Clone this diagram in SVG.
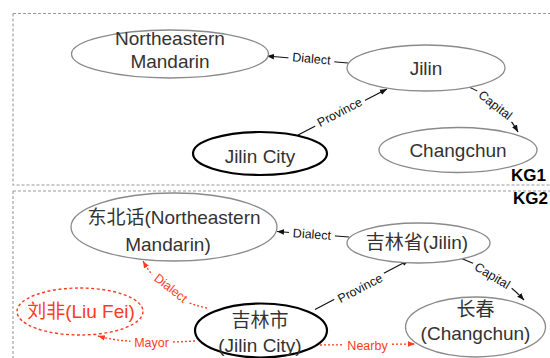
<svg xmlns="http://www.w3.org/2000/svg" width="550" height="358" viewBox="0 0 550 358">
<style>
.box{fill:none;stroke:#9a9a9a;stroke-width:1.1;stroke-dasharray:3 2}
.nd{fill:#fff;stroke:#8a8a8a;stroke-width:1.3}
.nd-b{fill:#fff;stroke:#000;stroke-width:2.2}
.nd-r{fill:#fff;stroke:#ff3b1f;stroke-width:1.4;stroke-dasharray:3 2.5}
.nt{font-family:"Liberation Sans","Noto Sans CJK SC",sans-serif;font-size:19px;fill:#333;text-anchor:middle}
.nt-r{fill:#ff3b1f}
.kg{font-family:"Liberation Sans",sans-serif;font-size:17px;font-weight:bold;fill:#000;text-anchor:end}
.e{fill:none;stroke:#111;stroke-width:1.2}
.e-r{fill:none;stroke:#ff3b1f;stroke-width:1.3;stroke-dasharray:2 2}
.lbg{fill:#fff}
.el{font-family:"Liberation Sans",sans-serif;font-size:12.5px;fill:#111;text-anchor:middle}
.el-r{fill:#ff3b1f}
</style>
<defs>
<marker id="ah" viewBox="0 0 10 10" refX="10" refY="5" markerWidth="7" markerHeight="7" markerUnits="userSpaceOnUse" orient="auto"><path d="M0,1 L10,5 L0,9 z" fill="#111"/></marker>
<marker id="ahr" viewBox="0 0 10 10" refX="10" refY="5" markerWidth="7" markerHeight="7" markerUnits="userSpaceOnUse" orient="auto"><path d="M0,1 L10,5 L0,9 z" fill="#ff3b1f"/></marker>
</defs>
<rect width="550" height="358" fill="#fff"/>
<g id="frames">
<path class="box" d="M13,13.5 H552 M13,13.5 V185 H552"/>
<path class="box" d="M13,191 H552 M13,191 V360"/>
<text class="kg" x="546" y="181">KG1</text>
<text class="kg" x="548" y="204">KG2</text>
</g>
<g id="connectors">
<g id="e1"><path class="e" d="M348,63 L267,56" marker-end="url(#ah)"/><g transform="translate(311.5,58.5) rotate(5)"><rect class="lbg" x="-23" y="-7" width="46" height="14"/><text class="el" dy="4.5">Dialect</text></g></g>
<g id="e2"><path class="e" d="M298,135 L387,89" marker-end="url(#ah)"/><g transform="translate(339.5,112) rotate(-27.5)"><rect class="lbg" x="-28" y="-7" width="56" height="14"/><text class="el" dy="4.5">Province</text></g></g>
<g id="e3"><path class="e" d="M469,87 Q500,100 518,132" marker-end="url(#ah)"/><g transform="translate(495.5,105) rotate(38)"><rect class="lbg" x="-23" y="-7" width="46" height="14"/><text class="el" dy="4.5">Capital</text></g></g>
<g id="e4"><path class="e" d="M349,237 L277,231.5" marker-end="url(#ah)"/><g transform="translate(312,234) rotate(4)"><rect class="lbg" x="-23" y="-7" width="46" height="14"/><text class="el" dy="4.5">Dialect</text></g></g>
<g id="e5"><path class="e" d="M315,309.5 L409,260" marker-end="url(#ah)"/><g transform="translate(360,288) rotate(-27.5)"><rect class="lbg" x="-28" y="-7" width="56" height="14"/><text class="el" dy="4.5">Province</text></g></g>
<g id="e6"><path class="e" d="M458,257 Q498,272 524,300" marker-end="url(#ah)"/><g transform="translate(492.5,275.5) rotate(31)"><rect class="lbg" x="-23" y="-7" width="46" height="14"/><text class="el" dy="4.5">Capital</text></g></g>
<g id="e7"><path class="e-r" d="M207,308 Q165,300 143,261" marker-end="url(#ahr)"/><g transform="translate(171,288) rotate(38)"><rect class="lbg" x="-23" y="-7" width="46" height="14"/><text class="el el-r" dy="4.5">Dialect</text></g></g>
<g id="e8"><path class="e-r" d="M195,341 Q130,345 98,336" marker-end="url(#ahr)"/><g transform="translate(151.5,342)"><rect class="lbg" x="-21" y="-7" width="42" height="14"/><text class="el el-r" dy="4.5">Mayor</text></g></g>
<g id="e9"><path class="e-r" d="M320,345 L415,344" marker-end="url(#ahr)"/><g transform="translate(367.5,345)"><rect class="lbg" x="-24" y="-7" width="48" height="14"/><text class="el el-r" dy="4.5">Nearby</text></g></g>
</g>
<g id="n-ne-mandarin"><ellipse class="nd" cx="170" cy="54" rx="98.5" ry="24"/><text class="nt" x="170" y="45">Northeastern</text><text class="nt" x="170" y="68">Mandarin</text></g>
<g id="n-jilin"><ellipse class="nd" cx="426" cy="68" rx="79" ry="23"/><text class="nt" x="426" y="75">Jilin</text></g>
<g id="n-changchun"><ellipse class="nd" cx="458" cy="150" rx="79" ry="22.5"/><text class="nt" x="458" y="157">Changchun</text></g>
<g id="n-jilincity"><ellipse class="nd-b" cx="260" cy="153.5" rx="67" ry="21.5"/><text class="nt" x="260" y="163">Jilin City</text></g>
<g id="n2-ne-mandarin"><ellipse class="nd" cx="174" cy="227" rx="103" ry="34"/><text class="nt" x="174" y="224">东北话(Northeastern</text><text class="nt" x="168" y="251">Mandarin)</text></g>
<g id="n2-jilin"><ellipse class="nd" cx="418.5" cy="243" rx="71.5" ry="20"/><text class="nt" x="417" y="249">吉林省(Jilin)</text></g>
<g id="n2-changchun"><ellipse class="nd" cx="475.5" cy="327" rx="70" ry="30"/><text class="nt" x="475.5" y="316">长春</text><text class="nt" x="475.5" y="340">(Changchun)</text></g>
<g id="n2-jilincity"><ellipse class="nd-b" cx="261" cy="330.5" rx="66" ry="27"/><text class="nt" x="260" y="327">吉林市</text><text class="nt" x="260" y="352">(Jilin City)</text></g>
<g id="n2-liufei"><ellipse class="nd-r" cx="80" cy="311.5" rx="63" ry="23.5"/><text class="nt nt-r" x="81" y="318">刘非(Liu Fei)</text></g>
</svg>
